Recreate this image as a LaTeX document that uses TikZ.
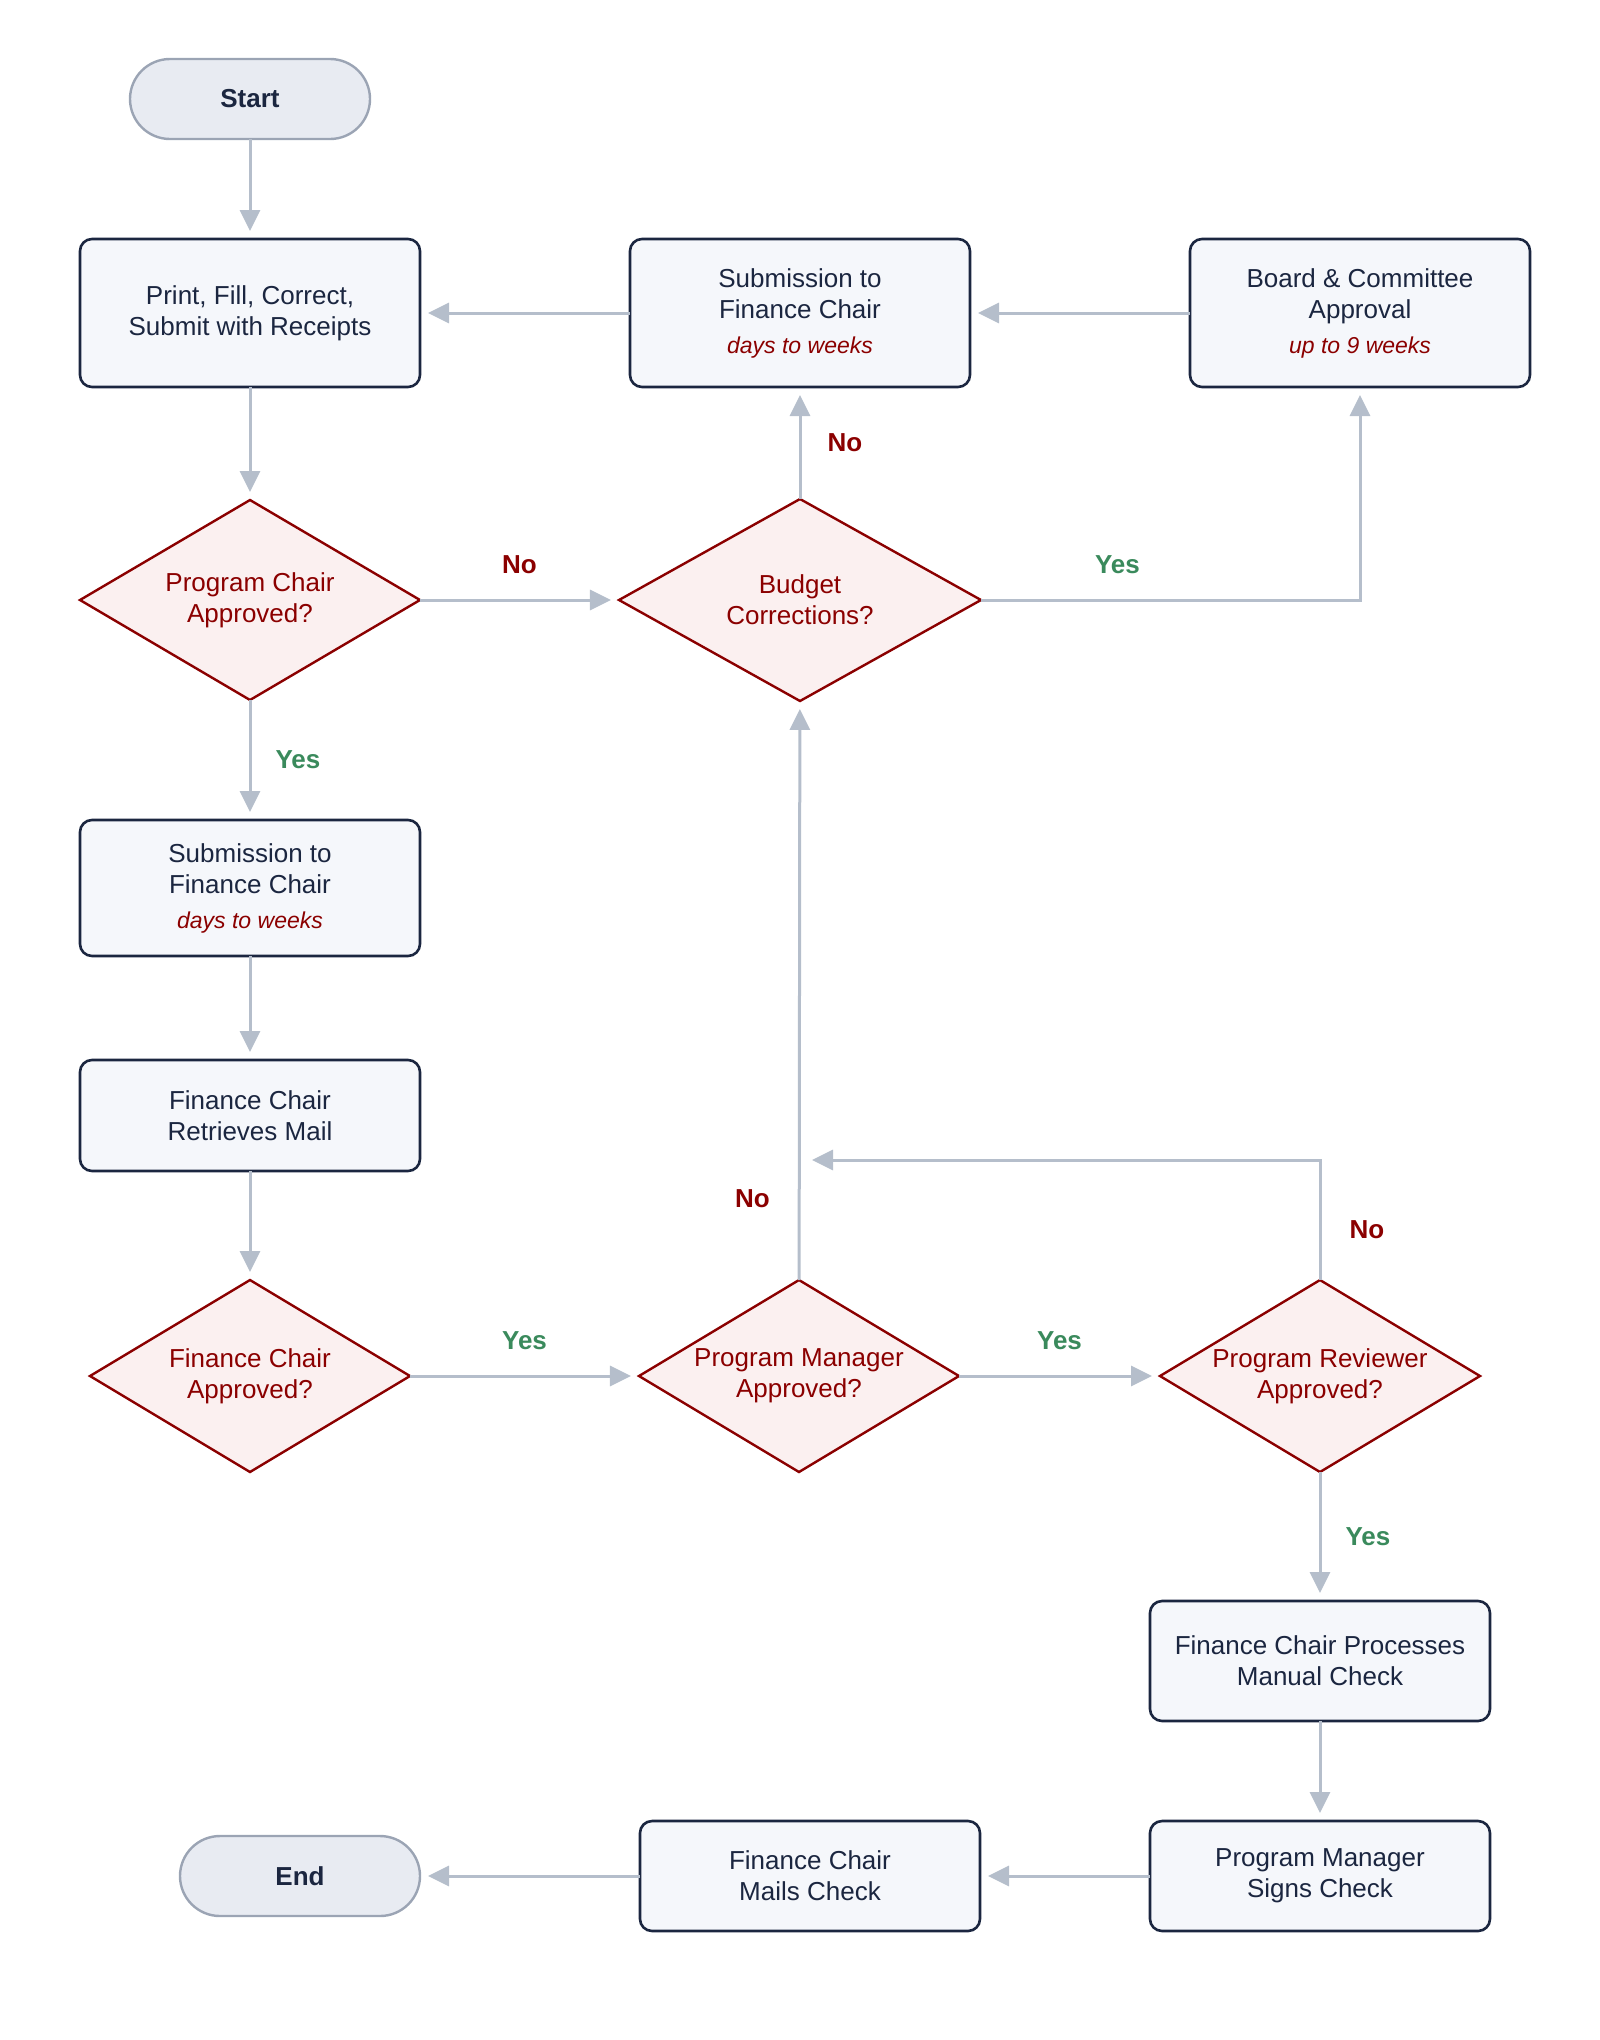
\documentclass[tikz,border=0pt]{standalone}
\usepackage{fontspec}
\setmainfont{Liberation Sans}
\usetikzlibrary{arrows.meta,positioning,shapes.geometric}
\definecolor{boxink}{HTML}{1B2640}
\definecolor{boxfill}{HTML}{F5F7FB}
\definecolor{denyred}{HTML}{8B0000}
\definecolor{decfill}{HTML}{FBF0F0}
\definecolor{termfill}{HTML}{E8EBF2}
\definecolor{termline}{HTML}{9BA4B4}
\definecolor{wiregrey}{HTML}{B5BECB}
\definecolor{passgreen}{HTML}{3A8A5C}

\begin{document}
\begin{tikzpicture}[
  font=\fontsize{13}{15.5}\selectfont,
  box/.style={draw=boxink, fill=boxfill, text=boxink, line width=1.3pt,
              rounded corners=6pt, minimum width=170pt, minimum height=74pt,
              align=center, inner sep=2pt, outer sep=0pt},
  dec/.style={diamond, draw=denyred, fill=decfill, text=denyred, line width=1.2pt,
              aspect=1.7, inner sep=0pt, outer sep=0pt, minimum width=160pt,
              minimum height=96pt, align=center},
  term/.style={draw=termline, fill=termfill, text=boxink, line width=1.2pt,
               rounded corners=20pt, minimum width=120pt, minimum height=40pt,
               outer sep=0pt, font=\fontsize{13}{15.5}\selectfont\bfseries},
  ar/.style={-{Triangle[length=10.5pt,width=10pt]}, draw=wiregrey, line width=1.5pt,
             shorten >=4pt},
  lab/.style={font=\fontsize{13}{15.5}\selectfont\bfseries, inner sep=0pt},
  yes/.style={lab, text=passgreen},
  no/.style={lab, text=denyred}]
\useasboundingbox (0,0) rectangle (800pt,-1020pt);
% top row and first decisions
\node[term] (start) at (125pt,-49.5pt) {Start};
\node[box, below=50pt of start] (print) {Print, Fill, Correct,\\Submit with Receipts};
\node[box, right=105pt of print] (subtop) {Submission to\\Finance Chair\\[2pt]
  \textcolor{denyred}{\fontsize{11.5}{14}\selectfont\itshape days to weeks}};
\node[box, right=110pt of subtop] (board) {Board \& Committee\\Approval\\[2pt]
  \textcolor{denyred}{\fontsize{11.5}{14}\selectfont\itshape up to 9 weeks}};
\node[dec, minimum width=170pt, minimum height=100pt, below=56.5pt of print] (pc)
  {Program Chair\\Approved?};
\node[dec, minimum width=181pt, minimum height=101pt, below=56pt of subtop] (budget)
  {Budget\\Corrections?};
% left column
\node[box, minimum height=68pt, below=60pt of pc] (subleft) {Submission to\\Finance Chair\\[2pt]
  \textcolor{denyred}{\fontsize{11.5}{14}\selectfont\itshape days to weeks}};
\node[box, minimum height=55.5pt, below=52pt of subleft] (mail) {Finance Chair\\Retrieves Mail};
\node[dec, below=54.5pt of mail] (fcok) {Finance Chair\\Approved?};
\node[dec, right=114.5pt of fcok] (pmok) {Program Manager\\Approved?};
\node[dec, right=100.5pt of pmok] (prok) {Program Reviewer\\Approved?};
% bottom row
\node[box, minimum height=60pt, below=64.5pt of prok] (proc) {Finance Chair Processes\\Manual Check};
\node[box, minimum height=55pt, below=50pt of proc] (sign) {Program Manager\\Signs Check};
\node[box, minimum height=55pt, left=85pt of sign] (mails) {Finance Chair\\Mails Check};
\node[term, left=110pt of mails] (end) {End};
\coordinate[above=60pt of pmok.north, xshift=2.5pt] (back);

\draw[ar] (start) -- (print);
\draw[ar] (print) -- (pc);
\draw[ar] (subtop) -- (print);
\draw[ar] (board) -- (subtop);
\draw[ar] (pc) -- node[no, above=12.5pt]{No} (budget);
\draw[ar] (budget) -- node[no, right=13pt]{No} (subtop);
\draw[ar] (budget) -| node[yes, above=12.5pt, pos=0.18]{Yes} (board);
\draw[ar] (pc) -- node[yes, right=12pt]{Yes} (subleft);
\draw[ar] (subleft) -- (mail);
\draw[ar] (mail) -- (fcok);
\draw[ar] (fcok) -- node[yes, above=12.5pt]{Yes} (pmok);
\draw[ar] (pmok) -- node[no, left=14pt, pos=0.14]{No} (budget);
\draw[ar] (pmok) -- node[yes, above=12.5pt]{Yes} (prok);
\draw[ar] (prok.north) |- node[no, right=14pt, pos=0.21]{No} (back);
\draw[ar] (prok) -- node[yes, right=12pt]{Yes} (proc);
\draw[ar] (proc) -- (sign);
\draw[ar] (sign) -- (mails);
\draw[ar] (mails) -- (end);
\end{tikzpicture}
\end{document}
